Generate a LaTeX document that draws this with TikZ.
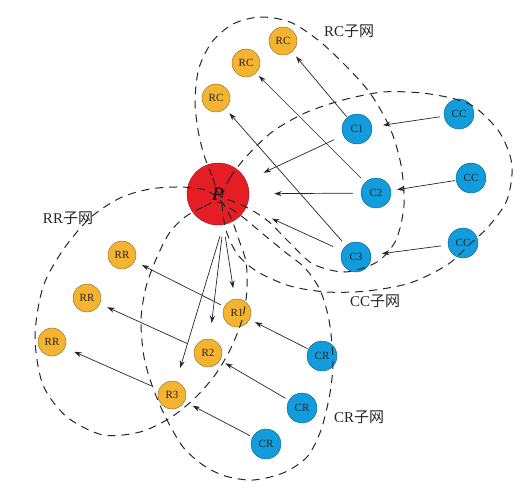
\documentclass[tikz,border=0pt]{standalone}
\usepackage{fontspec}
\setmainfont{Liberation Serif}
\newfontfamily\cjk{Noto Sans CJK SC}
\usetikzlibrary{arrows.meta}
\definecolor{nodeorange}{HTML}{F5B332}
\definecolor{nodeblue}{HTML}{129CDC}
\definecolor{nodered}{HTML}{E51E25}
\definecolor{ink}{HTML}{262626}

\begin{document}
\begin{tikzpicture}[
  x=1pt,y=-1pt,
  font=\fontsize{11}{13}\selectfont,
  rnode/.style={circle,draw=nodeorange!55!black,line width=.4pt,fill=nodeorange,
                minimum size=28pt,inner sep=0pt,text=ink},
  cnode/.style={circle,draw=nodeblue!60!black,line width=.4pt,fill=nodeblue,
                minimum size=30pt,inner sep=0pt,text=ink},
  arrow/.style={-{Stealth[length=7.5pt,width=5pt]},line width=.7pt,draw=ink,
                shorten <=3pt,shorten >=7pt},
  subnet/.style={line width=1pt,draw=ink,dash pattern=on 8pt off 6pt},
  netlabel/.style={font=\fontsize{15}{17}\selectfont,text=ink}
]
\useasboundingbox (0,0) rectangle (527,488);
\node[rnode] (rc1) at (283,41) {RC};
\node[rnode] (rc2) at (246,63) {RC};
\node[rnode] (rc3) at (216,98) {RC};
\node[cnode] (c1) at (357,129) {C1};
\node[cnode] (c2) at (376,193) {C2};
\node[cnode] (c3) at (356,257) {C3};
\node[cnode] (cc1) at (459,114) {CC};
\node[cnode] (cc2) at (471,178) {CC};
\node[cnode] (cc3) at (463,243) {CC};
\node[circle,draw=nodered!60!black,line width=.4pt,fill=nodered,minimum size=62pt,
      font=\fontsize{19}{19}\selectfont\itshape] (p) at (218,194) {P};
\node[rnode] (rr1) at (122,255) {RR};
\node[rnode] (rr2) at (87,298) {RR};
\node[rnode] (rr3) at (52,342) {RR};
\node[rnode] (r1) at (237,313) {R1};
\node[rnode] (r2) at (208,353) {R2};
\node[rnode] (r3) at (172,395) {R3};
\node[cnode] (cr1) at (322,356) {CR};
\node[cnode] (cr2) at (302,408) {CR};
\node[cnode] (cr3) at (266,444) {CR};
\node[netlabel] (rcnet) at (349,31) {RC{\cjk 子网}};
\node[netlabel] (ccnet) at (375,301) {CC{\cjk 子网}};
\node[netlabel] (rrnet) at (68,218) {RR{\cjk 子网}};
\node[netlabel] (crnet) at (359,417) {CR{\cjk 子网}};
\draw[arrow,shorten <=1pt,shorten >=6pt] (c1)--(rc1);
\draw[arrow,shorten <=6pt,shorten >=4pt] (c2)--(rc2);
\draw[arrow,shorten <=6pt,shorten >=6pt] (c3)--(rc3);
\draw[arrow,shorten <=10pt,shorten >=19pt] (c1)--(p);
\draw[arrow,shorten <=8pt,shorten >=25pt] (c2)--(p);
\draw[arrow,shorten <=10pt,shorten >=28pt] (c3)--(p);
\draw[arrow,shorten <=4pt,shorten >=11pt] (cc1)--(c1);
\draw[arrow,shorten <=1pt,shorten >=6pt] (cc2)--(c2);
\draw[arrow,shorten <=7pt,shorten >=11pt] (cc3)--(c3);
\draw[arrow,shorten <=12pt,shorten >=11pt] (p.-80)--(r1);
\draw[arrow,shorten <=12pt,shorten >=16pt] (p.-80)--(r2);
\draw[arrow,shorten <=12pt,shorten >=14pt] (p.-80)--(r3);
\draw[arrow,shorten <=4pt,shorten >=8pt] (r1)--(rr1);
\draw[arrow,shorten <=9pt,shorten >=8pt] (r2)--(rr2);
\draw[arrow,shorten <=8pt,shorten >=10pt] (r3)--(rr3);
\draw[arrow,shorten <=1pt,shorten >=6pt] (cr1)--(r1);
\draw[arrow,shorten <=4pt,shorten >=6pt] (cr2)--(r2);
\draw[arrow,shorten <=3pt,shorten >=9pt] (cr3)--(r3);
\draw[subnet] plot[smooth cycle] coordinates {(220,196) (212,176) (204,155) (198,130)
  (195,100) (199,68) (212,42) (233,24) (260,17) (290,22) (318,40) (345,65) (370,93)
  (390,128) (401,165) (404,205) (396,240) (377,262) (345,272) (313,264) (290,243)
  (268,221) (248,208) (232,201)};
\draw[subnet] plot[smooth cycle] coordinates {(222,198) (230,178) (246,157) (272,132)
  (305,113) (343,100) (383,92) (422,93) (455,99) (476,108) (500,133) (512,165)
  (507,200) (489,226) (470,244) (447,265) (410,283) (367,291) (327,292) (290,286)
  (258,272) (238,255) (226,230)};
\draw[subnet] plot[smooth cycle] coordinates {(218,202) (203,207) (185,217) (170,232)
  (157,257) (146,287) (141,320) (144,357) (153,388) (166,418) (183,447) (203,465)
  (225,476) (253,480) (283,473) (307,457) (321,430) (330,393) (333,360) (329,320)
  (320,290) (305,268) (285,252) (263,234) (240,215)};
\draw[subnet] plot[smooth cycle] coordinates {(220,200) (205,190) (180,187) (150,189)
  (120,198) (90,218) (63,250) (43,287) (35,337) (43,385) (67,417) (103,435) (140,432)
  (170,418) (195,398) (215,375) (230,350) (242,320) (247,290) (246,262) (239,240)
  (231,218)};
\end{tikzpicture}
\end{document}
